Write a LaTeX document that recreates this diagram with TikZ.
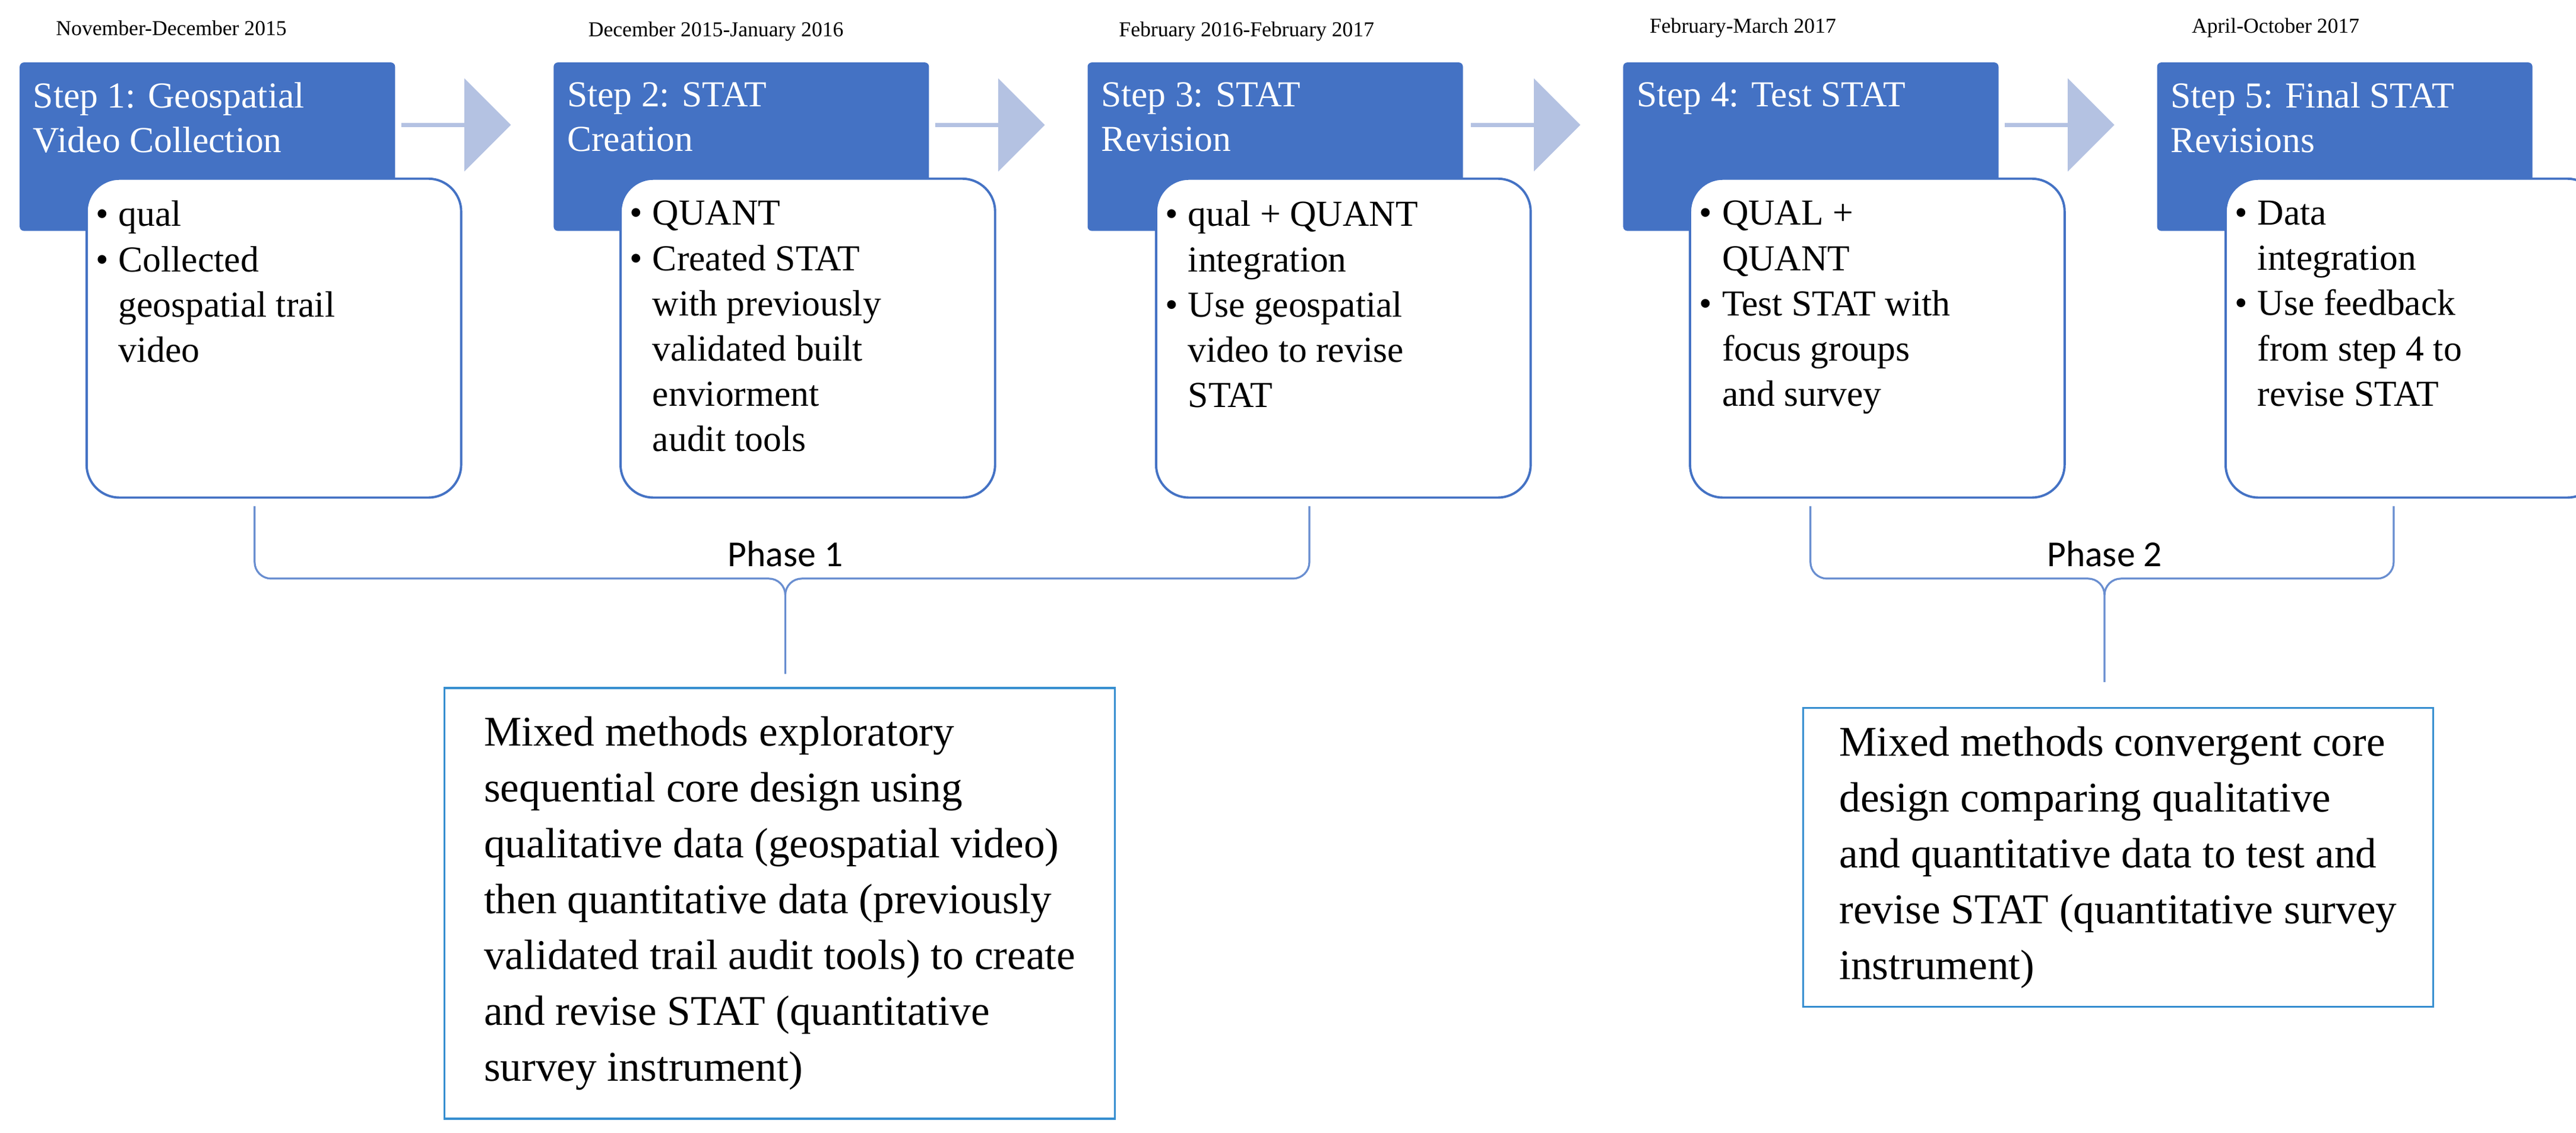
\documentclass[tikz,border=0pt]{standalone}
\usepackage{fontspec}
\setmainfont{Liberation Serif}
\newfontfamily\phasefont{Carlito}
\usetikzlibrary{shapes.arrows,positioning}
\definecolor{stepblue}{HTML}{4472C4}
\definecolor{arrowblue}{HTML}{B4C2E2}
\newcommand{\bul}{\makebox[0.42cm][l]{\textbullet}}
\newcommand{\ind}{\hspace*{0.42cm}}
\tikzset{
  stepbox/.style={rectangle, rounded corners=2pt, fill=stepblue, draw=stepblue, anchor=north west,
    minimum width=6.84cm, minimum height=3.06cm},
  steptext/.style={anchor=north west, text=white, align=left, font=\fontsize{19}{23}\selectfont, inner sep=0pt},
  infobox/.style={rectangle, rounded corners=0.6cm, fill=white, draw=stepblue, line width=1.2pt, anchor=north west,
    minimum width=6.84cm, minimum height=5.82cm},
  infotext/.style={anchor=north west, align=left, font=\fontsize{19}{23.5}\selectfont, inner sep=0pt},
  datetext/.style={anchor=west, font=\fontsize{11}{13}\selectfont},
  flowarrow/.style={single arrow, fill=arrowblue, draw=none, minimum height=2cm, minimum width=1.7cm,
    single arrow head extend=0.15cm, inner sep=0pt},
  brace/.style={draw=stepblue!80, line width=1pt},
  phasetext/.style={font=\phasefont\fontsize{19}{22}\selectfont},
  designbox/.style={rectangle, draw=stepblue!80!cyan, line width=1pt, anchor=north west, align=left,
    font=\fontsize{22}{29}\selectfont, inner xsep=0.25cm, inner ysep=0.3cm}
}
\begin{document}
\begin{tikzpicture}[x=0.03cm, y=-0.03cm]
  \useasboundingbox (0,0) rectangle (1568,689);

  % dates
  \node[datetext] (d1) at (30,17) {November-December 2015};
  \node[datetext] (d2) at (354,19) {December 2015-January 2016};
  \node[datetext] (d3) at (677,19) {February 2016-February 2017};
  \node[datetext] (d4) at (1000,17) {February-March 2017};
  \node[datetext] (d5) at (1330,17) {April-October 2017};

  % step boxes
  \node[stepbox] (s1) at (12,38) {};
  \node[stepbox] (s2) at (337,38) {};
  \node[stepbox] (s3) at (662,38) {};
  \node[stepbox] (s4) at (988,38) {};
  \node[stepbox] (s5) at (1313,38) {};
  \node[steptext] (t1) at (20,50) {Step 1: Geospatial\\Video Collection};
  \node[steptext] (t2) at (345,50) {Step 2: STAT\\Creation};
  \node[steptext] (t3) at (670,50) {Step 3: STAT\\Revision};
  \node[steptext] (t4) at (996,50) {Step 4: Test STAT};
  \node[steptext] (t5) at (1321,50) {Step 5: Final STAT\\Revisions};

  % arrows
  \node[flowarrow] (a1) at (277,76) {};
  \node[flowarrow] (a2) at (602,76) {};
  \node[flowarrow] (a3) at (928,76) {};
  \node[flowarrow] (a4) at (1253,76) {};

  % detail boxes
  \node[infobox] (b1) at (52,108) {};
  \node[infobox] (b2) at (377,108) {};
  \node[infobox] (b3) at (703,108) {};
  \node[infobox] (b4) at (1028,108) {};
  \node[infobox] (b5) at (1354,108) {};
  \node[infotext] (i1) at (58,122) {\bul qual\\\bul Collected\\\ind geospatial trail\\\ind video};
  \node[infotext] (i2) at (383,122) {\bul QUANT\\\bul Created STAT\\\ind with previously\\\ind validated built\\\ind enviorment\\\ind audit tools};
  \node[infotext] (i3) at (709,122) {\bul qual + QUANT\\\ind integration\\\bul Use geospatial\\\ind video to revise\\\ind STAT};
  \node[infotext] (i4) at (1034,122) {\bul QUAL +\\\ind QUANT\\\bul Test STAT with\\\ind focus groups\\\ind and survey};
  \node[infotext] (i5) at (1360,122) {\bul Data\\\ind integration\\\bul Use feedback\\\ind from step 4 to\\\ind revise STAT};

  % phase braces
  \coordinate (p1l) at (155,308);
  \coordinate (p1r) at (797,308);
  \coordinate (p1m) at (478,410);
  \coordinate (p2l) at (1102,308);
  \coordinate (p2r) at (1457,308);
  \coordinate (p2m) at (1281,415);
  \draw[brace] (p1l) -- ++(0,34) arc[start angle=180, end angle=90, radius=10] -- ([xshift=-10*0.03cm, yshift=-352*0.03cm]p1m |- 0,0)
    arc[start angle=-90, end angle=0, radius=10] -- (p1m);
  \draw[brace] (p1r) -- ++(0,34) arc[start angle=0, end angle=90, radius=10] -- ([xshift=10*0.03cm, yshift=-352*0.03cm]p1m |- 0,0)
    arc[start angle=270, end angle=180, radius=10];
  \draw[brace] (p2l) -- ++(0,34) arc[start angle=180, end angle=90, radius=10] -- ([xshift=-10*0.03cm, yshift=-352*0.03cm]p2m |- 0,0)
    arc[start angle=-90, end angle=0, radius=10] -- (p2m);
  \draw[brace] (p2r) -- ++(0,34) arc[start angle=0, end angle=90, radius=10] -- ([xshift=10*0.03cm, yshift=-352*0.03cm]p2m |- 0,0)
    arc[start angle=270, end angle=180, radius=10];
  \node[phasetext] (ph1) at (478,337) {Phase 1};
  \node[phasetext] (ph2) at (1281,337) {Phase 2};

  % design boxes
  \node[designbox, minimum width=12.24cm, minimum height=7.86cm] (m1) at (270,418) {Mixed methods exploratory\\sequential core design using\\qualitative data (geospatial video)\\then quantitative data (previously\\validated trail audit tools) to create\\and revise STAT (quantitative\\survey instrument)};
  \node[designbox, minimum width=11.5cm, minimum height=5.46cm] (m2) at (1097,430) {Mixed methods convergent core\\design comparing qualitative\\and quantitative data to test and\\revise STAT (quantitative survey\\instrument)};
\end{tikzpicture}
\end{document}
